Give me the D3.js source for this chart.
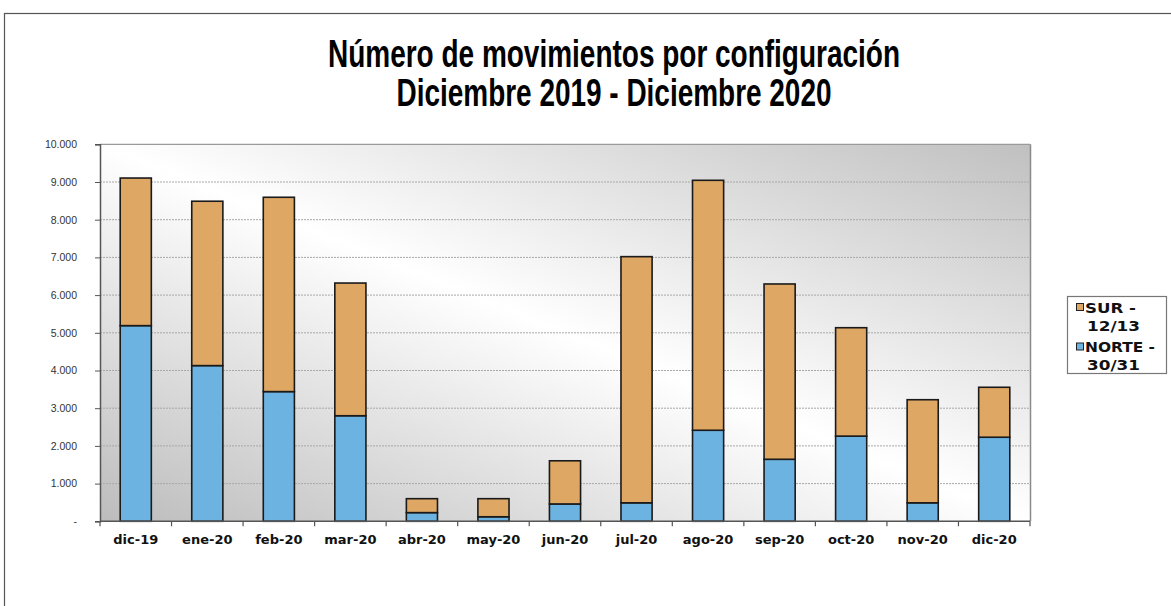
<!DOCTYPE html>
<html><head><meta charset="utf-8">
<script src="https://cdn.jsdelivr.net/npm/d3@7"></script>
<style>body{margin:0;background:#fff;}svg{display:block;}</style>
</head><body>
<svg id="c" width="1171" height="606"></svg>
<script>
const categories = ["dic-19","ene-20","feb-20","mar-20","abr-20","may-20","jun-20","jul-20","ago-20","sep-20","oct-20","nov-20","dic-20"];
const norte = [5190, 4130, 3440, 2800, 230, 120, 460, 490, 2415, 1645, 2260, 490, 2230];
const sur   = [3915, 4360, 5155, 3520, 370, 480, 1145, 6530, 6630, 4650, 2875, 2735, 1325];
const seriesNames = ["NORTE - 30/31", "SUR - 12/13"];
const yTicks = [0,1000,2000,3000,4000,5000,6000,7000,8000,9000,10000];
const titleLines = ["Número de movimientos por configuración", "Diciembre 2019 - Diciembre 2020"];

const svg = d3.select("#c");
const m = {left:100, right:1030, top:144.3, bottom:521.3};

// outer frame
svg.append("rect").attr("x",4.5).attr("y",13.5).attr("width",1300).attr("height",800)
  .attr("fill","#fff").attr("stroke","#555").attr("stroke-width",1.2);

// title (condensed look)
const titleWidths = [572, 435];
svg.append("g").selectAll("text").data(titleLines).join("text")
  .attr("x",614).attr("y",(d,i)=>67+i*39)
  .attr("text-anchor","middle")
  .attr("font-family","'Liberation Sans Narrow','Arial Narrow','Liberation Sans',Arial,sans-serif")
  .attr("font-weight","bold").attr("font-size",39).attr("fill","#000")
  .attr("textLength",(d,i)=>titleWidths[i]).attr("lengthAdjust","spacingAndGlyphs")
  .text(d=>d);

const defs = svg.append("defs");
const grad = defs.append("linearGradient").attr("id","bg")
  .attr("x1","0").attr("y1","1").attr("x2","1").attr("y2","0");
grad.append("stop").attr("offset","0").attr("stop-color","#bcbcbc");
grad.append("stop").attr("offset","0.5").attr("stop-color","#ffffff");
grad.append("stop").attr("offset","1").attr("stop-color","#c0c0c0");

const x = d3.scaleBand().domain(categories).range([m.left,m.right]).paddingInner(0.565).paddingOuter(0.2825);
const xb = d3.scaleBand().domain(categories).range([m.left,m.right]);
const y = d3.scaleLinear().domain([0,10000]).range([m.bottom,m.top]);

svg.append("rect").attr("x",m.left).attr("y",m.top).attr("width",m.right-m.left).attr("height",m.bottom-m.top)
  .attr("fill","url(#bg)");
svg.append("line").attr("x1",m.left).attr("x2",m.right).attr("y1",m.top).attr("y2",m.top).attr("stroke","#9a9a9a").attr("stroke-width",1.2);
svg.append("line").attr("x1",m.right+0.5).attr("x2",m.right+0.5).attr("y1",m.top).attr("y2",m.bottom).attr("stroke","#8a8a8a").attr("stroke-width",1.5);

// gridlines
svg.append("g").selectAll("line").data(yTicks.filter(t=>t>0 && t<10000)).join("line")
  .attr("x1",m.left).attr("x2",m.right).attr("y1",d=>y(d)).attr("y2",d=>y(d))
  .attr("stroke","#a8a8a8").attr("stroke-width",1).attr("stroke-dasharray","2,1");

// stacked bars
const rows = categories.map((c,i)=>({cat:c, NORTE:norte[i], SUR:sur[i]}));
const stack = d3.stack().keys(["NORTE","SUR"])(rows);
const colors = {NORTE:"#6db3e2", SUR:"#dea764"};
svg.append("g").selectAll("g").data(stack).join("g")
  .attr("fill",d=>colors[d.key])
  .selectAll("rect").data(d=>d).join("rect")
  .attr("x",d=>x(d.data.cat)).attr("width",x.bandwidth())
  .attr("y",d=>y(d[1])).attr("height",d=>y(d[0])-y(d[1]))
  .attr("stroke","#1a1a1a").attr("stroke-width",1.6);

// y axis
const yAxis = d3.axisLeft(y).tickValues(yTicks).tickSize(5).tickPadding(18)
  .tickFormat(d=> d===0 ? "-" : d3.format(",")(d).replace(/,/g,"."));
const gy = svg.append("g").attr("transform",`translate(${m.left},0)`).call(yAxis);
gy.select(".domain").attr("stroke","#555").attr("stroke-width",1.5);
gy.selectAll(".tick line").attr("stroke","#555");
gy.selectAll("text").attr("font-family","'Liberation Sans',Arial,sans-serif").attr("font-size",10.5).attr("fill","#333");

// x axis
const gx = svg.append("g").attr("transform",`translate(0,${m.bottom})`);
gx.append("line").attr("x1",m.left).attr("x2",m.right).attr("stroke","#555").attr("stroke-width",1.5);
gx.selectAll("line.tk").data(d3.range(categories.length+1)).join("line").attr("class","tk")
  .attr("x1",i=>m.left+i*xb.step()).attr("x2",i=>m.left+i*xb.step()).attr("y1",0).attr("y2",5)
  .attr("stroke","#555").attr("stroke-width",1.2);
gx.selectAll("text").data(categories).join("text")
  .attr("x",d=>xb(d)+xb.bandwidth()/2).attr("y",23)
  .attr("text-anchor","middle")
  .attr("font-family","'DejaVu Sans',Verdana,sans-serif").attr("font-weight","bold").attr("font-size",13).attr("fill","#111")
  .text(d=>d);

// legend
const lg = svg.append("g");
lg.append("rect").attr("x",1067.5).attr("y",296.5).attr("width",99).attr("height",77)
  .attr("fill","#fff").attr("stroke","#777").attr("stroke-width",1.2);
const legendItems = [{key:"SUR", name:seriesNames[1], w:[51,53]}, {key:"NORTE", name:seriesNames[0], w:[70,53]}];
legendItems.forEach((it,i)=>{
  const y0 = 303 + i*39.5;
  lg.append("rect").attr("x",1076.5).attr("y",y0+0.5).attr("width",7).attr("height",7)
    .attr("fill",colors[it.key]).attr("stroke","#222").attr("stroke-width",1);
  const parts = it.name.split(" - ");
  const st = {"font-family":"'DejaVu Sans',Verdana,sans-serif","font-weight":"bold","font-size":14,"fill":"#111"};
  const t1 = lg.append("text").attr("x",1085).attr("y",y0+9.5).attr("textLength",it.w[0]).attr("lengthAdjust","spacingAndGlyphs").text(parts[0]+" -");
  const t2 = lg.append("text").attr("x",1087).attr("y",y0+27.5).attr("textLength",it.w[1]).attr("lengthAdjust","spacingAndGlyphs").text(parts[1]);
  [t1,t2].forEach(t=>Object.entries(st).forEach(([k,v])=>t.attr(k,v)));
});
</script>
</body></html>
